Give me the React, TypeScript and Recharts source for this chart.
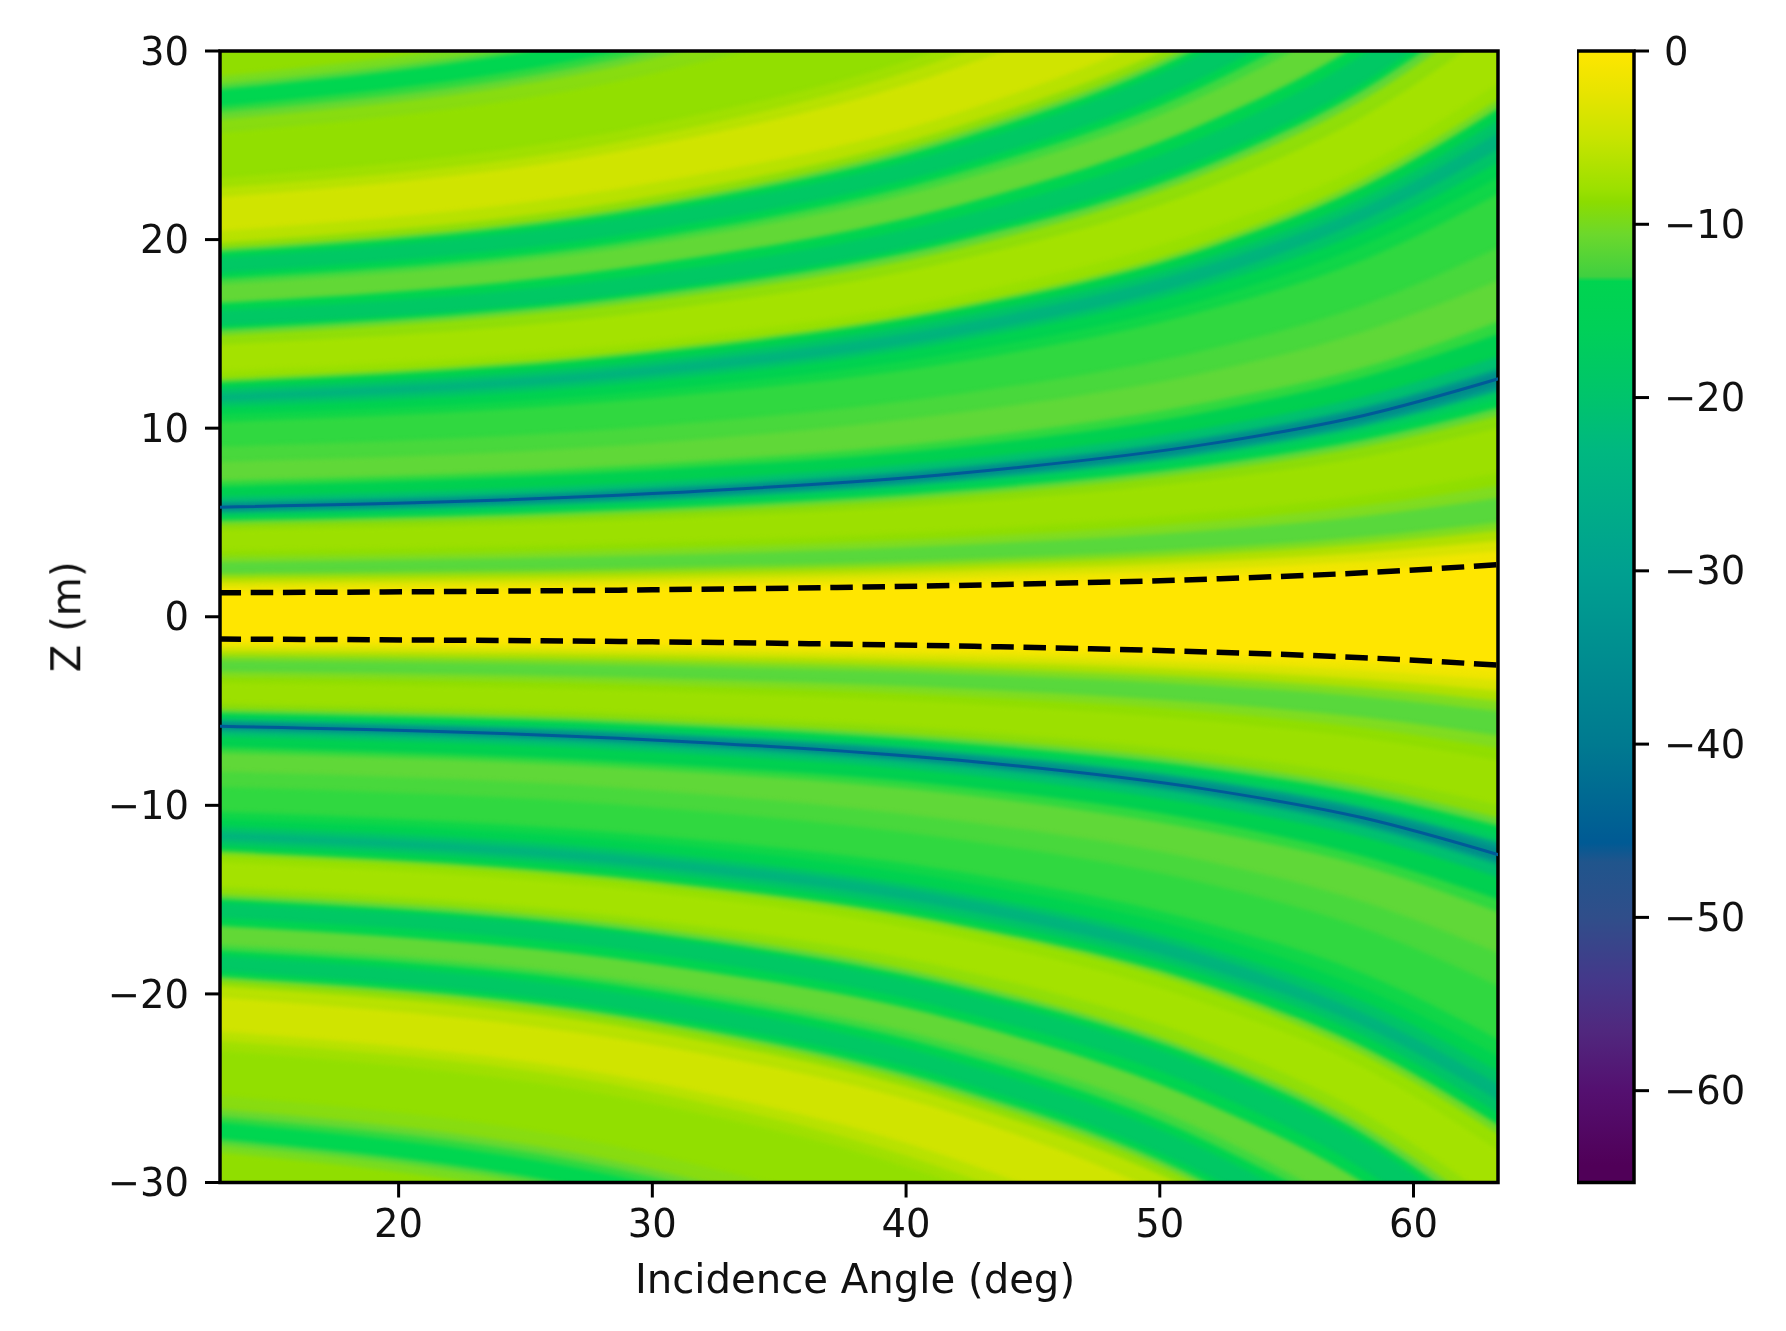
import { ComposedChart, Area, Line, XAxis, YAxis, ReferenceArea, Label } from 'recharts'

const FONT = '"DejaVu Sans", sans-serif'
const FONT_SIZE = 38.5
const LABEL_SIZE = 40.2

const angles = [12.5, 30, 42, 52, 58, 64]
const angleTicks = [20, 30, 40, 50, 60]
const zTicks = [-30, -20, -10, 0, 10, 20, 30]
const cbarTicks = [-60, -50, -40, -30, -20, -10, 0]

// dashed beam edges and the two deep nulls, Z (m) at each angle
const upperDash = [1.27, 1.43, 1.66, 2.0, 2.33, 2.82]
const lowerDash = [-1.18, -1.33, -1.55, -1.87, -2.17, -2.62]
const upperNull = [5.8, 6.53, 7.6, 9.18, 10.66, 12.88]
const lowerNull = [-5.8, -6.53, -7.6, -9.18, -10.66, -12.88]

// colour of each level band, from the beam centre outward
const bandColors = [
  '#ffe600', '#f0e600', '#d8e400', '#b0e000', '#80dc20', '#58d83c', '#80dc20', '#90de00', '#9ce000',
  '#8cdc08', '#60d838', '#00d450', '#00cc60', '#00a088', '#008c8c', '#00a088', '#00c070', '#00d050',
  '#30d840', '#60d838', '#48d83c', '#30d840', '#10d648', '#00d250', '#00c468', '#00b47c', '#00c468',
  '#00d24e', '#70da28', '#98e000', '#a4e200', '#90de08', '#60d838', '#00d450', '#00c864', '#00d450',
  '#62d836', '#40d840', '#00d450', '#00c864', '#00d450', '#60d838', '#90de08', '#b8e200', '#d0e400',
  '#b8e200', '#a0e000', '#92df00', '#88dc10', '#68d830', '#30d840', '#00d650', '#50d83c', '#78dc20',
  '#90de00',
]

// band edges above the centre, Z (m) read at each angle
const upperEdges = [
  [1.35, 1.52, 1.77, 2.14, 2.48, 3.0],
  [1.6, 1.8, 2.1, 2.53, 2.94, 3.55],
  [1.85, 2.08, 2.43, 2.93, 3.4, 4.11],
  [2.1, 2.36, 2.75, 3.32, 3.86, 4.66],
  [2.3, 2.59, 3.02, 3.64, 4.23, 5.11],
  [2.9, 3.26, 3.8, 4.59, 5.33, 6.44],
  [3.2, 3.6, 4.2, 5.06, 5.88, 7.1],
  [3.5, 3.94, 4.59, 5.54, 6.43, 7.77],
  [4.6, 5.18, 6.03, 7.28, 8.45, 10.21],
  [4.9, 5.51, 6.42, 7.75, 9.01, 10.88],
  [5.1, 5.74, 6.69, 8.07, 9.37, 11.32],
  [5.3, 5.96, 6.95, 8.38, 9.74, 11.77],
  [5.5, 6.19, 7.21, 8.7, 10.11, 12.21],
  [5.65, 6.36, 7.41, 8.94, 10.38, 12.54],
  [5.95, 6.69, 7.8, 9.41, 10.94, 13.21],
  [6.05, 6.81, 7.93, 9.57, 11.12, 13.43],
  [6.35, 7.14, 8.32, 10.05, 11.67, 14.1],
  [6.9, 7.8, 9.0, 10.9, 12.7, 15.3],
  [7.2, 8.1, 9.4, 11.4, 13.2, 16.0],
  [8.2, 9.2, 10.8, 13.0, 15.1, 18.2],
  [9.0, 10.1, 11.8, 14.2, 16.5, 20.0],
  [10.3, 11.6, 13.5, 16.3, 18.9, 22.9],
  [10.7, 12.0, 14.0, 16.9, 19.7, 23.8],
  [11.1, 12.5, 14.6, 17.6, 20.4, 24.6],
  [11.4, 12.8, 14.9, 18.0, 21.0, 25.3],
  [11.8, 13.3, 15.5, 18.7, 21.7, 26.2],
  [12.1, 13.6, 15.9, 19.1, 22.2, 26.9],
  [12.4, 14.0, 16.3, 19.6, 22.8, 27.5],
  [12.6, 14.2, 16.5, 19.9, 23.2, 28.0],
  [13.0, 14.6, 17.0, 20.6, 23.9, 28.9],
  [14.4, 16.2, 18.9, 22.8, 26.5, 32.0],
  [14.9, 16.8, 19.5, 23.6, 27.4, 33.1],
  [15.2, 17.1, 19.9, 24.0, 27.9, 33.7],
  [15.4, 17.3, 20.2, 24.4, 28.3, 34.2],
  [16.2, 18.2, 21.2, 25.6, 29.8, 36.0],
  [16.6, 18.7, 21.8, 26.3, 30.5, 36.9],
  [17.6, 19.8, 23.1, 27.8, 32.3, 39.1],
  [17.9, 20.1, 23.5, 28.3, 32.9, 39.7],
  [18.2, 20.5, 23.9, 28.8, 33.5, 40.4],
  [19.0, 21.4, 24.9, 30.1, 34.9, 42.2],
  [19.3, 21.7, 25.3, 30.5, 35.5, 42.8],
  [19.5, 21.9, 25.6, 30.8, 35.8, 43.3],
  [19.8, 22.3, 26.0, 31.3, 36.4, 44.0],
  [20.4, 23.0, 26.7, 32.3, 37.5, 45.3],
  [22.2, 25.0, 29.1, 35.1, 40.8, 49.3],
  [22.7, 25.5, 29.8, 35.9, 41.7, 50.4],
  [23.2, 26.1, 30.4, 36.7, 42.6, 51.5],
  [25.6, 28.8, 33.6, 40.5, 47.1, 56.8],
  [26.3, 29.6, 34.5, 41.6, 48.3, 58.4],
  [26.7, 30.0, 35.0, 42.2, 49.1, 59.3],
  [27.0, 30.4, 35.4, 42.7, 49.6, 59.9],
  [27.9, 31.4, 36.6, 44.1, 51.3, 61.9],
  [28.2, 31.7, 37.0, 44.6, 51.8, 62.6],
  [28.6, 32.2, 37.5, 45.2, 52.6, 63.5],
]

// band edges below the centre, read separately: the far lobes sit a little closer in
const lowerEdges = [
  [-1.3, -1.46, -1.7, -2.06, -2.39, -2.89],
  [-1.55, -1.74, -2.03, -2.45, -2.85, -3.44],
  [-1.8, -2.02, -2.36, -2.85, -3.31, -4.0],
  [-2.05, -2.31, -2.69, -3.24, -3.77, -4.55],
  [-2.3, -2.59, -3.02, -3.64, -4.23, -5.11],
  [-2.9, -3.26, -3.8, -4.59, -5.33, -6.44],
  [-3.2, -3.6, -4.2, -5.06, -5.88, -7.1],
  [-3.5, -3.94, -4.59, -5.54, -6.43, -7.77],
  [-4.6, -5.18, -6.03, -7.28, -8.45, -10.21],
  [-4.9, -5.51, -6.42, -7.75, -9.01, -10.88],
  [-5.1, -5.74, -6.69, -8.07, -9.37, -11.32],
  [-5.3, -5.96, -6.95, -8.38, -9.74, -11.77],
  [-5.5, -6.19, -7.21, -8.7, -10.11, -12.21],
  [-5.65, -6.36, -7.41, -8.94, -10.38, -12.54],
  [-5.95, -6.69, -7.8, -9.41, -10.94, -13.21],
  [-6.05, -6.81, -7.93, -9.57, -11.12, -13.43],
  [-6.35, -7.14, -8.32, -10.05, -11.67, -14.1],
  [-6.9, -7.8, -9.0, -10.9, -12.7, -15.3],
  [-7.2, -8.1, -9.4, -11.4, -13.2, -16.0],
  [-8.2, -9.2, -10.8, -13.0, -15.1, -18.2],
  [-9.0, -10.1, -11.8, -14.2, -16.5, -20.0],
  [-10.3, -11.6, -13.5, -16.3, -18.9, -22.9],
  [-10.7, -12.0, -14.0, -16.9, -19.7, -23.8],
  [-11.1, -12.5, -14.6, -17.6, -20.4, -24.6],
  [-11.4, -12.8, -14.9, -18.0, -21.0, -25.3],
  [-11.8, -13.3, -15.5, -18.7, -21.7, -26.2],
  [-12.1, -13.6, -15.9, -19.1, -22.2, -26.9],
  [-12.4, -14.0, -16.3, -19.6, -22.8, -27.5],
  [-12.6, -14.2, -16.5, -19.9, -23.2, -28.0],
  [-13.0, -14.6, -17.0, -20.6, -23.9, -28.9],
  [-14.3, -16.1, -18.7, -22.6, -26.3, -31.8],
  [-14.7, -16.5, -19.3, -23.3, -27.0, -32.6],
  [-14.95, -16.8, -19.6, -23.6, -27.4, -33.2],
  [-15.15, -17.0, -19.9, -24.0, -27.8, -33.6],
  [-15.95, -17.9, -20.9, -25.2, -29.3, -35.4],
  [-16.35, -18.4, -21.4, -25.9, -30.0, -36.3],
  [-17.35, -19.5, -22.7, -27.4, -31.9, -38.5],
  [-17.65, -19.8, -23.1, -27.9, -32.4, -39.1],
  [-17.95, -20.2, -23.6, -28.4, -33.0, -39.8],
  [-18.75, -21.1, -24.6, -29.7, -34.4, -41.6],
  [-19.05, -21.4, -25.0, -30.1, -35.0, -42.3],
  [-19.25, -21.6, -25.3, -30.4, -35.3, -42.7],
  [-19.55, -22.0, -25.7, -30.9, -35.9, -43.4],
  [-20.15, -22.7, -26.4, -31.9, -37.0, -44.7],
  [-21.95, -24.7, -28.8, -34.7, -40.3, -48.7],
  [-22.45, -25.2, -29.5, -35.5, -41.2, -49.8],
  [-22.95, -25.8, -30.1, -36.3, -42.1, -50.9],
  [-25.35, -28.5, -33.3, -40.1, -46.6, -56.2],
  [-26.05, -29.3, -34.2, -41.2, -47.8, -57.8],
  [-26.45, -29.7, -34.7, -41.8, -48.6, -58.7],
  [-26.75, -30.1, -35.1, -42.3, -49.1, -59.3],
  [-27.65, -31.1, -36.3, -43.7, -50.8, -61.3],
  [-27.95, -31.4, -36.7, -44.2, -51.3, -62.0],
  [-28.35, -31.9, -37.2, -44.8, -52.1, -62.9],
]

// colorbar stops: level in dB and the colour there
const cbarLevels = [0, -2.5, -5, -8, -8.7, -10.6, -13, -13.3, -16, -20, -23, -30, -40, -45.7, -46.8, -50, -53.6, -56.5, -60, -64.3, -65.3]
const cbarColors = [
  '#ffe600', '#e6e400', '#c8e400', '#9be000', '#8cdc00', '#6cd82c', '#40d040', '#00d450', '#00d058', '#00c46c', '#00b880',
  '#00a090', '#007a90', '#005a94', '#20558c', '#304e8a', '#44388a', '#50287e', '#541070', '#500058', '#500058',
]
const CBAR_MIN = -65.3

const rows = angles.map((angle, i) => ({
  angle,
  upperDash: upperDash[i],
  lowerDash: lowerDash[i],
  upperNull: upperNull[i],
  lowerNull: lowerNull[i],
  upper: upperEdges.map(r => r[i]),
  lower: lowerEdges.map(r => r[i]),
}))

const minus = (v: number) => String(v).replace('-', '\u2212')
const tickStyle = { fontFamily: FONT, fontSize: FONT_SIZE, fill: '#111' }
const labelStyle = { fontFamily: FONT, fontSize: LABEL_SIZE, fill: '#111', textAnchor: 'middle' as const }
const tickLine = { stroke: '#000', strokeWidth: 3 }

function Heat() {
  const bottom = -100
  // painted top down: every area fills from its edge to below the plot
  const upperIdx = upperEdges.map((_, i) => upperEdges.length - 1 - i)
  return (
    <ComposedChart
      width={1560}
      height={1331}
      data={rows}
      margin={{ top: 51, right: 62, bottom: 0, left: 0 }}
    >
      <XAxis
        dataKey="angle"
        type="number"
        domain={[12.96, 63.33]}
        allowDataOverflow
        ticks={angleTicks}
        height={148.5}
        tick={tickStyle}
        tickSize={15}
        tickMargin={12}
        axisLine={false}
        tickLine={tickLine}
      >
        <Label value="Incidence Angle (deg)" position="insideBottom" offset={38} dx={-4} style={labelStyle} />
      </XAxis>
      <YAxis
        type="number"
        domain={[-30, 30]}
        allowDataOverflow
        ticks={zTicks}
        width={220}
        tick={tickStyle}
        tickSize={15}
        tickMargin={16}
        tickFormatter={minus}
        axisLine={false}
        tickLine={tickLine}
      >
        <Label value="Z (m)" angle={-90} position="insideLeft" offset={66} style={labelStyle} />
      </YAxis>
      <Area
        dataKey={() => [bottom, 100]}
        type="linear"
        fill={bandColors[bandColors.length - 1]}
        fillOpacity={1}
        stroke="none"
        isAnimationActive={false}
        activeDot={false}
      />
      {upperIdx.map(k => (
        <Area
          key={`u${k}`}
          dataKey={(d: any) => [bottom, d.upper[k]]}
          type="monotone"
          fill={bandColors[k]}
          fillOpacity={1}
          stroke="none"
          isAnimationActive={false}
          activeDot={false}
        />
      ))}
      {lowerEdges.map((_, k) => (
        <Area
          key={`l${k}`}
          dataKey={(d: any) => [bottom, d.lower[k]]}
          type="monotone"
          fill={bandColors[k + 1]}
          fillOpacity={1}
          stroke="none"
          isAnimationActive={false}
          activeDot={false}
        />
      ))}
      <Line dataKey="upperNull" type="monotone" stroke="#005a98" strokeWidth={3} dot={false} activeDot={false} isAnimationActive={false} />
      <Line dataKey="lowerNull" type="monotone" stroke="#005a98" strokeWidth={3} dot={false} activeDot={false} isAnimationActive={false} />
      <Line dataKey="upperDash" type="monotone" stroke="#000" strokeWidth={5.5} strokeDasharray="22.5 9.7" strokeDashoffset={22} dot={false} activeDot={false} isAnimationActive={false} />
      <Line dataKey="lowerDash" type="monotone" stroke="#000" strokeWidth={5.5} strokeDasharray="22.5 9.7" strokeDashoffset={22} dot={false} activeDot={false} isAnimationActive={false} />
      <ReferenceArea x1={12.96} x2={63.33} y1={-30} y2={30} fill="none" stroke="#000" strokeWidth={3.5} ifOverflow="visible" />
    </ComposedChart>
  )
}

function Colorbar() {
  return (
    <ComposedChart
      width={201}
      height={1331}
      data={[{ x: 0 }, { x: 1 }]}
      margin={{ top: 51, right: 0, bottom: 148.5, left: 0 }}
    >
      <defs>
        <linearGradient id="cbar" x1="0" y1="0" x2="0" y2="1">
          {cbarLevels.map((level, i) => (
            <stop key={level} offset={level / CBAR_MIN} stopColor={cbarColors[i]} />
          ))}
        </linearGradient>
      </defs>
      <XAxis dataKey="x" type="number" domain={[0, 1]} hide />
      <YAxis
        orientation="right"
        type="number"
        domain={[CBAR_MIN, 0]}
        ticks={cbarTicks}
        width={144}
        tick={tickStyle}
        tickSize={15}
        tickMargin={15}
        tickFormatter={minus}
        axisLine={false}
        tickLine={tickLine}
      />
      <Area dataKey={() => [CBAR_MIN, 0]} type="linear" fill="url(#cbar)" fillOpacity={1} stroke="none" isAnimationActive={false} activeDot={false} />
      <ReferenceArea x1={0} x2={1} y1={CBAR_MIN} y2={0} fill="none" stroke="#000" strokeWidth={3.5} ifOverflow="visible" />
    </ComposedChart>
  )
}

export default function App() {
  return (
    <div style={{ position: 'absolute', left: 0, top: 0, width: 1786, height: 1331, background: '#fff', overflow: 'hidden' }}>
      <style>{`.heat .recharts-area-area { filter: blur(2px); } .recharts-text { filter: blur(0.5px); }`}</style>
      <div className="heat" style={{ position: 'absolute', left: 0, top: 0 }}>
        <Heat />
      </div>
      <div style={{ position: 'absolute', left: 1577, top: 0 }}>
        <Colorbar />
      </div>
    </div>
  )
}
